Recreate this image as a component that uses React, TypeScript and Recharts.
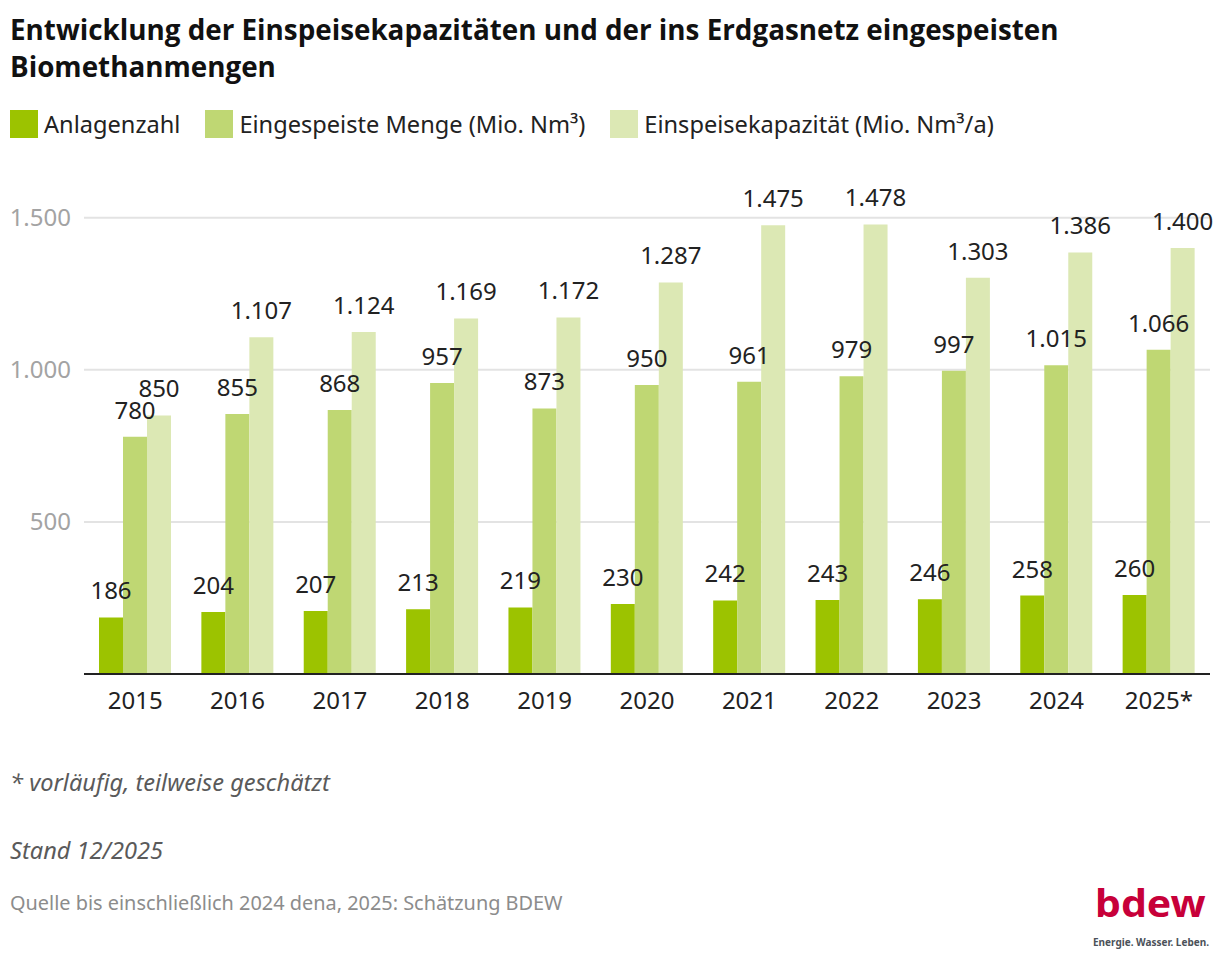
import React from 'react';
import { BarChart, Bar, XAxis, YAxis, CartesianGrid, LabelList } from 'recharts';

const years = ['2015', '2016', '2017', '2018', '2019', '2020', '2021', '2022', '2023', '2024', '2025*'];
const anlagenzahl = [186, 204, 207, 213, 219, 230, 242, 243, 246, 258, 260];
const menge = [780, 855, 868, 957, 873, 950, 961, 979, 997, 1015, 1066];
const kapazitaet = [850, 1107, 1124, 1169, 1172, 1287, 1475, 1478, 1303, 1386, 1400];
const yTicks = [500, 1000, 1500];

const seriesNames = ['Anlagenzahl', 'Eingespeiste Menge (Mio. Nm³)', 'Einspeisekapazität (Mio. Nm³/a)'];
const seriesColors = ['#9cc300', '#bfd773', '#dce8b4'];
const seriesKeys = ['anlagen', 'menge', 'kap'];

const data = years.map((y, i) => ({
  year: y,
  anlagen: anlagenzahl[i],
  menge: menge[i],
  kap: kapazitaet[i],
}));

const fmt = (v: any) => String(v).replace(/\B(?=(\d{3})+(?!\d))/g, '.');

export default function App() {
  return (
    <div
      style={{
        position: 'absolute',
        left: 0,
        top: 0,
        width: 1220,
        height: 960,
        background: '#ffffff',
        fontFamily: '"Noto Sans", sans-serif',
        overflow: 'hidden',
      }}
    >
      <div
        style={{
          position: 'absolute',
          left: 10,
          top: 10.7,
          width: 1205,
          fontSize: 27.8,
          lineHeight: '37px',
          fontWeight: 700,
          color: '#111111',
          fontFamily: '"Open Sans", sans-serif',
        }}
      >
        <div style={{ whiteSpace: 'nowrap' }}>
          Entwicklung der Einspeisekapazitäten und der ins Erdgasnetz eingespeisten
        </div>
        <div>Biomethanmengen</div>
      </div>

      <div
        style={{
          position: 'absolute',
          left: 10,
          top: 110,
          display: 'flex',
          alignItems: 'center',
          whiteSpace: 'nowrap',
        }}
      >
        {seriesNames.map((n, i) => (
          <div key={n} style={{ display: 'flex', alignItems: 'center', marginRight: 25 }}>
            <div style={{ width: 28, height: 28, background: seriesColors[i], marginRight: 6 }} />
            <span style={{ fontSize: 23.6, lineHeight: '28px', color: '#222222' }}>{n}</span>
          </div>
        ))}
      </div>

      <div style={{ position: 'absolute', left: 0, top: 0 }}>
        <BarChart
          width={1220}
          height={720}
          data={data}
          margin={{ top: 217.7, right: 10, bottom: 6, left: 0 }}
          barSize={24}
          barGap={0}
        >
          <CartesianGrid vertical={false} stroke="#e3e3e3" strokeWidth={2} />
          <XAxis
            dataKey="year"
            height={40}
            tickLine={false}
            tickSize={6}
            tickMargin={12}
            axisLine={{ stroke: '#222222', strokeWidth: 2 }}
            tick={{ fontSize: 24, fill: '#222222' }}
            interval={0}
          />
          <YAxis
            width={84}
            domain={[0, 1500]}
            ticks={yTicks}
            tickFormatter={fmt}
            axisLine={false}
            tickLine={false}
            tickSize={6}
            tickMargin={7}
            tick={{ fontSize: 24, fill: '#a3a3a3' }}
          />
          {seriesKeys.map((k, i) => (
            <Bar key={k} dataKey={k} fill={seriesColors[i]} isAnimationActive={false}>
              <LabelList
                dataKey={k}
                position="top"
                offset={18}
                formatter={fmt}
                fill="#222222"
                fontSize={24}
              />
            </Bar>
          ))}
        </BarChart>
      </div>

      <div
        style={{
          position: 'absolute',
          left: 10,
          top: 766,
          fontSize: 23.6,
          lineHeight: '33px',
          fontStyle: 'italic',
          color: '#5a5a5a',
          whiteSpace: 'nowrap',
        }}
      >
        * vorläufig, teilweise geschätzt
      </div>
      <div
        style={{
          position: 'absolute',
          left: 10,
          top: 834,
          fontSize: 23.6,
          lineHeight: '33px',
          fontStyle: 'italic',
          color: '#5a5a5a',
          whiteSpace: 'nowrap',
        }}
      >
        Stand 12/2025
      </div>
      <div
        style={{
          position: 'absolute',
          left: 10,
          top: 889,
          fontSize: 19.9,
          lineHeight: '28px',
          color: '#8c8c8c',
          whiteSpace: 'nowrap',
        }}
      >
        Quelle bis einschließlich 2024 dena, 2025: Schätzung BDEW
      </div>

      <svg
        style={{ position: 'absolute', left: 1080, top: 870, overflow: 'visible' }}
        width={140}
        height={90}
      >
        <text
          x={15}
          y={46.7}
          fontSize={38}
          fontWeight={700}
          fill="#c70039"
          textLength={110.7}
          lengthAdjust="spacingAndGlyphs"
        >
          bdew
        </text>
        <text
          x={13}
          y={76}
          fontSize={11}
          fontWeight={700}
          fill="#4b5259"
          textLength={116}
          lengthAdjust="spacingAndGlyphs"
        >
          Energie. Wasser. Leben.
        </text>
      </svg>
    </div>
  );
}
